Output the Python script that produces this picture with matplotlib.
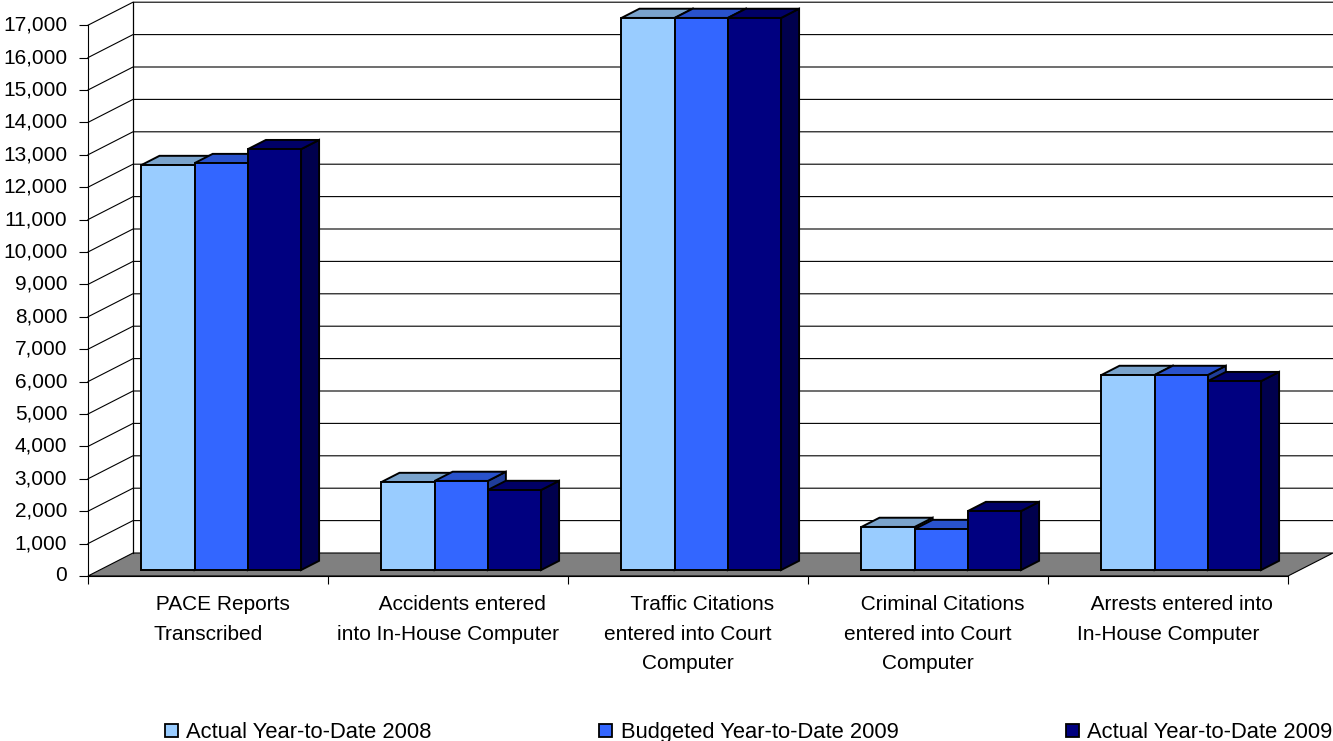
import matplotlib
matplotlib.use('Agg')
import matplotlib.pyplot as plt
from matplotlib.patches import Polygon, Patch
from matplotlib.colors import to_rgb
from matplotlib.transforms import ScaledTranslation
import numpy as np

plt.rcParams['font.family'] = ['Liberation Sans', 'DejaVu Sans']

# leading spaces: the first lines sit off-centre in the original
categories = ['     PACE Reports\nTranscribed',
              '     Accidents entered\ninto In-House Computer',
              '     Traffic Citations\nentered into Court\nComputer',
              '     Criminal Citations\nentered into Court\nComputer',
              '     Arrests entered into\nIn-House Computer']
series_names = ['Actual Year-to-Date 2008', 'Budgeted Year-to-Date 2009', 'Actual Year-to-Date 2009']
actual_2008 = [12500, 2716, 17040, 1330, 6020]
budget_2009 = [12560, 2750, 17040, 1265, 6020]
actual_2009 = [12990, 2470, 17040, 1820, 5830]
colors = ['#99CCFF', '#3366FF', '#000080']
yticks = np.arange(0, 18000, 1000)

# oblique depth of the chart box, in data units
wall_dx = 45 / 240
wall_dy = 23 / 0.0324
depth_front = 0.26
depth_back = 0.66
gap = 0.174
bar_w = 0.2217


def shade(c, f):
    return tuple(v * f for v in to_rgb(c))


fig = plt.figure(figsize=(13.33, 7.41), dpi=100)
ax = fig.add_axes([0, 0, 1, 1])
ax.patch.set_visible(False)
ax.set_xlim(-88 / 240, (1333 - 88) / 240)
ax.set_ylim(-165 / 0.0324, 576 / 0.0324)

# walls and floor
ax.add_patch(Polygon([(0, 0), (wall_dx, wall_dy), (5 + wall_dx, wall_dy), (5, 0)],
                     facecolor='#808080', edgecolor='black', lw=0.8, zorder=1))
ax.plot([wall_dx, wall_dx], [wall_dy, 17000 + wall_dy], color='black', lw=0.9, zorder=1)
for v in yticks[1:]:
    ax.plot([0, wall_dx, 5 + wall_dx], [v, v + wall_dy, v + wall_dy], color='black', lw=0.8, zorder=1)

# bars, left to right so later ones overlap the earlier sides
for i in range(len(categories)):
    for j, vals in enumerate([actual_2008, budget_2009, actual_2009]):
        v = vals[i]
        x0 = i + gap + j * bar_w + depth_front * wall_dx
        x1 = x0 + bar_w
        y0 = depth_front * wall_dy
        y1 = y0 + v
        ddx = (depth_back - depth_front) * wall_dx
        ddy = (depth_back - depth_front) * wall_dy
        c = colors[j]
        side = [(x1, y0), (x1 + ddx, y0 + ddy), (x1 + ddx, y1 + ddy), (x1, y1)]
        top = [(x0, y1), (x0 + ddx, y1 + ddy), (x1 + ddx, y1 + ddy), (x1, y1)]
        front = [(x0, y0), (x1, y0), (x1, y1), (x0, y1)]
        ax.add_patch(Polygon(side, facecolor=shade(c, 0.6), edgecolor='black', lw=1.4, zorder=3))
        ax.add_patch(Polygon(top, facecolor=shade(c, 0.8), edgecolor='black', lw=1.4, zorder=3))
        ax.add_patch(Polygon(front, facecolor=c, edgecolor='black', lw=1.4, zorder=3))

for s in ['top', 'right']:
    ax.spines[s].set_visible(False)
ax.spines['left'].set_position(('data', 0))
ax.spines['bottom'].set_position(('data', 0))
ax.spines['left'].set_bounds(0, 17000)
ax.spines['bottom'].set_bounds(0, 5)
ax.spines['left'].set_linewidth(0.8)
ax.spines['bottom'].set_linewidth(0.8)

ax.set_yticks(yticks)
ax.set_yticklabels([f'{v:,}' for v in yticks])
ax.tick_params(axis='y', length=6.5, width=0.8, pad=8.5, labelsize=15)
up = ScaledTranslation(0, 1.5 / 72, fig.dpi_scale_trans)
for lab in ax.get_yticklabels():
    lab.set_transform(lab.get_transform() + up)
ax.set_xticks(np.arange(6))
ax.set_xticklabels([])
ax.tick_params(axis='x', length=5.8, width=0.8)
ax.set_xticks(np.arange(5) + 0.5, minor=True)
ax.set_xticklabels(categories, minor=True, fontsize=15, linespacing=1.72)
ax.tick_params(axis='x', which='minor', length=0, pad=13.5)

handles = [Patch(facecolor=c, edgecolor='black', lw=1.3) for c in colors]
fig.legend(handles, series_names, ncol=3, frameon=False, fontsize=15.8,
           loc='lower left', bbox_to_anchor=(165 / 1333, -0.003), borderpad=0, borderaxespad=0,
           handlelength=0.59, handleheight=0.59, handletextpad=0.37, columnspacing=7.65)

fig.savefig('out.png', dpi=100)
